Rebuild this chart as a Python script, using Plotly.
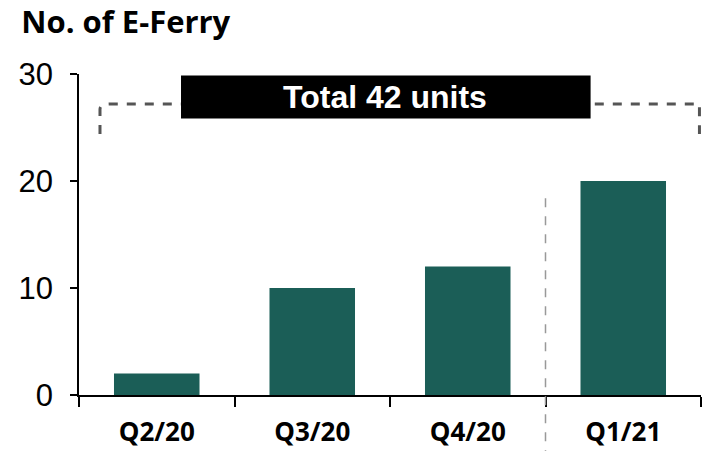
import plotly.graph_objects as go

# E-Ferry deliveries per quarter
quarters = ["Q2/20", "Q3/20", "Q4/20", "Q1/21"]
units = [2, 10, 12, 20]
total_label = "Total 42 units"
y_ticks = [0, 10, 20, 30]

bar_color = "#1B5E57"
bracket_color = "#555555"

fig = go.Figure()
fig.add_trace(go.Bar(
    x=quarters, y=units, marker=dict(color=bar_color, line=dict(width=0)),
    width=0.55, showlegend=False, hoverinfo="skip",
))

# dashed bracket spanning all quarters
fig.add_shape(type="path", xref="x", yref="y",
              path="M -0.365,24.4 L -0.365,26.7 Q -0.365,27.2 -0.3,27.2 L 3.49,27.2 L 3.49,24.4",
              line=dict(color=bracket_color, width=3, dash="dash"), layer="above")

# total label box over the bracket
fig.add_shape(type="rect", xref="x", yref="y",
              x0=0.156, x1=2.79, y0=25.85, y1=29.85,
              fillcolor="black", line=dict(width=0), layer="above")
fig.add_annotation(x=1.47, y=27.85, xref="x", yref="y", text=f"<b>{total_label}</b>",
                   showarrow=False, font=dict(family="Liberation Sans, Arial", size=32, color="white"))

# separator between 2020 and 2021
fig.add_shape(type="line", xref="x", yref="paper", x0=2.5, x1=2.5, y0=-0.2, y1=0.64,
              line=dict(color="#999999", width=1.5, dash="dash"), layer="above")

fig.update_layout(
    width=709, height=451,
    margin=dict(l=79, r=8, t=74, b=56),
    plot_bgcolor="white", paper_bgcolor="white",
    bargap=0.45,
    title=dict(text="<b>No. of E-Ferry</b>", x=0.03, xanchor="left", y=0.952, yanchor="middle",
               font=dict(family="Open Sans", size=31, color="black")),
    xaxis=dict(
        tickson="boundaries", ticks="outside", ticklen=10, tickwidth=1.5, tickcolor="black",
        showline=True, linecolor="black", linewidth=1.5, showgrid=False,
        tickfont=dict(family="Open Sans", size=26, color="black", weight="bold"),
        ticklabelstandoff=13, automargin=False,
        range=[-0.5, 3.5],
    ),
    yaxis=dict(
        range=[0, 30], tickvals=y_ticks, ticks="outside", ticklen=7, tickwidth=1.5, tickcolor="black",
        showline=True, linecolor="black", linewidth=1.5, showgrid=False, zeroline=False,
        tickfont=dict(family="Liberation Sans, Arial", size=31, color="black"),
        ticklabelstandoff=11, automargin=False,
    ),
)

fig.write_html("out.html")
